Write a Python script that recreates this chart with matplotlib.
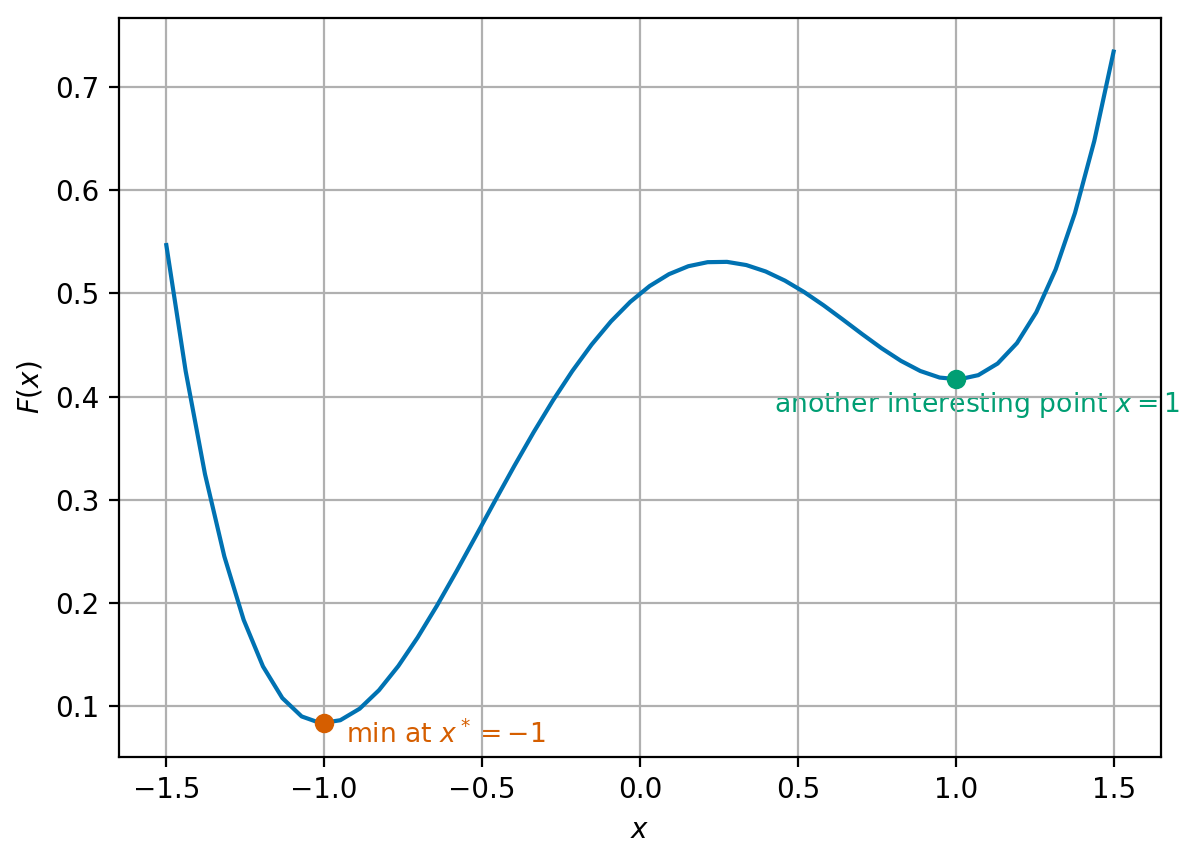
import matplotlib
matplotlib.use("Agg")
import matplotlib.pyplot as plt

x_vals = [-1.5, -1.438776, -1.377551, -1.316327, -1.255102, -1.193878, -1.132653, -1.071429,
          -1.010204, -0.94898, -0.887755, -0.826531, -0.765306, -0.704082, -0.642857, -0.581633,
          -0.520408, -0.459184, -0.397959, -0.336735, -0.27551, -0.214286, -0.153061, -0.091837,
          -0.030612, 0.030612, 0.091837, 0.153061, 0.214286, 0.27551, 0.336735, 0.397959,
          0.459184, 0.520408, 0.581633, 0.642857, 0.704082, 0.765306, 0.826531, 0.887755,
          0.94898, 1.010204, 1.071429, 1.132653, 1.193878, 1.255102, 1.316327, 1.377551,
          1.438776, 1.5]
f_vals = [0.546875, 0.424773, 0.324896, 0.245205, 0.183723, 0.138566, 0.107935, 0.090112,
          0.083464, 0.086445, 0.097589, 0.115519, 0.138938, 0.166636, 0.197489, 0.230451,
          0.264567, 0.298961, 0.332846, 0.365517, 0.396352, 0.424817, 0.450457, 0.472906,
          0.491881, 0.507182, 0.518695, 0.526389, 0.530319, 0.530622, 0.527521, 0.521322,
          0.512417, 0.501281, 0.488473, 0.474639, 0.460506, 0.446886, 0.434677, 0.424859,
          0.418499, 0.416746, 0.420834, 0.432081, 0.451892, 0.481751, 0.523231, 0.577988,
          0.647759, 0.734375]

min_x, min_y = -1.0, 0.083333
pt_x, pt_y = 1.0, 0.416667
min_label = r"min at $x^*=-1$"
pt_label = r"another interesting point $x=1$"

blue = "#0072B2"
orange = "#D55E00"
green = "#009E73"

fig = plt.figure(figsize=(5.99, 4.29), dpi=200)
ax = fig.add_axes([0.0993, 0.1177, 0.9691 - 0.0993, 0.979 - 0.1177])
ax.plot(x_vals, f_vals, color=blue, lw=1.5)
ax.plot([min_x], [min_y], "o", color=orange)
ax.plot([pt_x], [pt_y], "o", color=green)
ax.text(-0.932, 0.072, min_label, color=orange, ha="left", va="center",
        fontsize=9.6, zorder=1)
ax.text(1.068, 0.392, pt_label, color=green, ha="center", va="center",
        fontsize=9.6, zorder=1)
ax.set_xlabel(r"$x$")
ax.set_ylabel(r"$F(x)$")
ax.grid(True)
fig.savefig("out.png", dpi=200)
